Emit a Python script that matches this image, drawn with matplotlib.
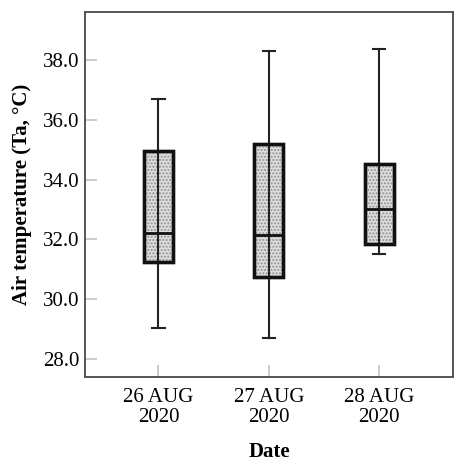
import matplotlib
matplotlib.use("Agg")
import matplotlib.pyplot as plt

plt.rcParams['font.family'] = ['Liberation Serif', 'DejaVu Serif']

# Datos
dates = ['26 AUG\n2020', '27 AUG\n2020', '28 AUG\n2020']
whis_low = [29.05, 28.69, 31.52]
q1 = [31.23, 30.74, 31.84]
median = [32.21, 32.14, 33.00]
q3 = [34.97, 35.20, 34.51]
whis_high = [36.69, 38.30, 38.35]
yticks = [28.0, 30.0, 32.0, 34.0, 36.0, 38.0]

positions = [1, 2, 3]

fig = plt.figure(figsize=(4.54, 4.62), dpi=100)
ax = fig.add_axes([0.187, 0.184, 0.811, 0.790])

stats = []
for i in range(len(dates)):
    stats.append({'whislo': whis_low[i], 'q1': q1[i], 'med': median[i],
                  'q3': q3[i], 'whishi': whis_high[i], 'fliers': []})

bp = ax.bxp(stats, positions=positions, widths=0.26, patch_artist=True,
            showfliers=False, capwidths=0.11,
            boxprops=dict(facecolor='#dedede', edgecolor='#111111', linewidth=2.4),
            medianprops=dict(color='#111111', linewidth=2.0),
            whiskerprops=dict(color='#222222', linewidth=1.5),
            capprops=dict(color='#222222', linewidth=1.5))

# punteado del relleno
for b in bp['boxes']:
    b.set_zorder(2)
    overlay = plt.Polygon(b.get_path().vertices, closed=True, fill=False,
                          hatch='.....', edgecolor='#909090', linewidth=0, zorder=2.1)
    ax.add_patch(overlay)

# línea central que atraviesa la caja
ax.vlines(positions, q1, q3, colors='#222222', linewidth=1.5, zorder=2.2)
for m in bp['medians']:
    m.set_zorder(2.3)
for b in bp['boxes']:
    b2 = plt.Polygon(b.get_path().vertices, closed=True, fill=False,
                     edgecolor='#111111', linewidth=2.4, zorder=2.4)
    ax.add_patch(b2)

ax.set_xlim(0.333, 3.67)
ax.set_ylim(27.4, 39.6)
ax.set_xticks(positions)
ax.set_xticklabels(dates, fontsize=15, linespacing=1.05)
ax.set_yticks(yticks)
ax.set_yticklabels([f"{v:.1f}" for v in yticks], fontsize=15)

ax.tick_params(axis='both', direction='in', length=8.5, width=1.3, color='#c8c8c8', pad=4)
ax.tick_params(axis='x', pad=8)

for s in ax.spines.values():
    s.set_color('#555555')
    s.set_linewidth(1.4)

ax.set_ylabel('Air temperature (Ta, °C)', fontsize=15, fontweight='bold', labelpad=8)
ax.set_xlabel('Date', fontsize=15, fontweight='bold', labelpad=11)

fig.savefig('out.png', dpi=100)
plt.close(fig)
